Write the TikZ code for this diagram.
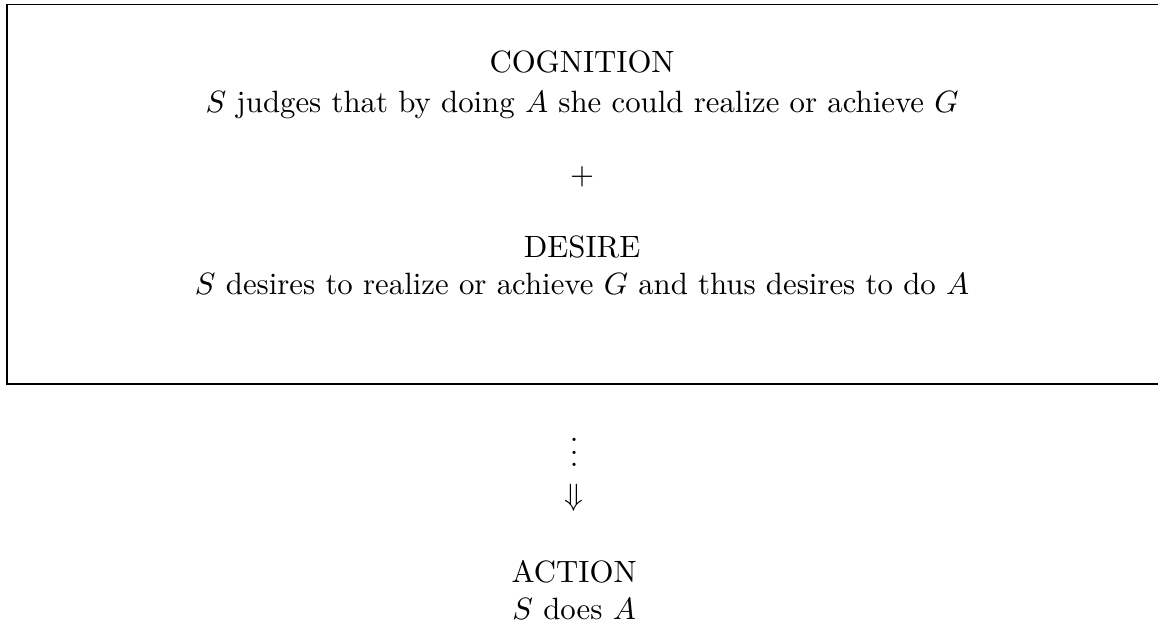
\documentclass[tikz,border=0pt]{standalone}
\usepackage{amsmath}

\tikzset{
  textline/.style={anchor=base, inner sep=0pt}
}

\begin{document}
\begin{tikzpicture}
      \clip (0,0) rectangle (13.21,7.14);

      \draw (0.08,2.76) rectangle (13.6,7.09);

      \node[textline] (C) at (6.64,6.31) { COGNITION };
      \node[textline] (CT) at (6.64,5.86) { $S$ judges that by doing $A$ she could realize or achieve $G$ };

      \node[textline] (P) at (6.64,5.04) { $+$ };

      \node[textline] (D) at (6.64,4.20) { DESIRE };
      \node[textline] (DT) at (6.64,3.78) { $S$ desires to realize or achieve $G$ and thus desires to do $A$ };

      \node[textline] (V) at (6.55,1.82) { $\vdots$ };
      \node[textline] (Arr) at (6.55,1.37) { $\Downarrow$ };

      \node[textline] (Ac) at (6.55,0.50) { ACTION };
      \node[textline] (AcT) at (6.55,0.07) { $S$ does $A$ };
  \end{tikzpicture}
\end{document}
